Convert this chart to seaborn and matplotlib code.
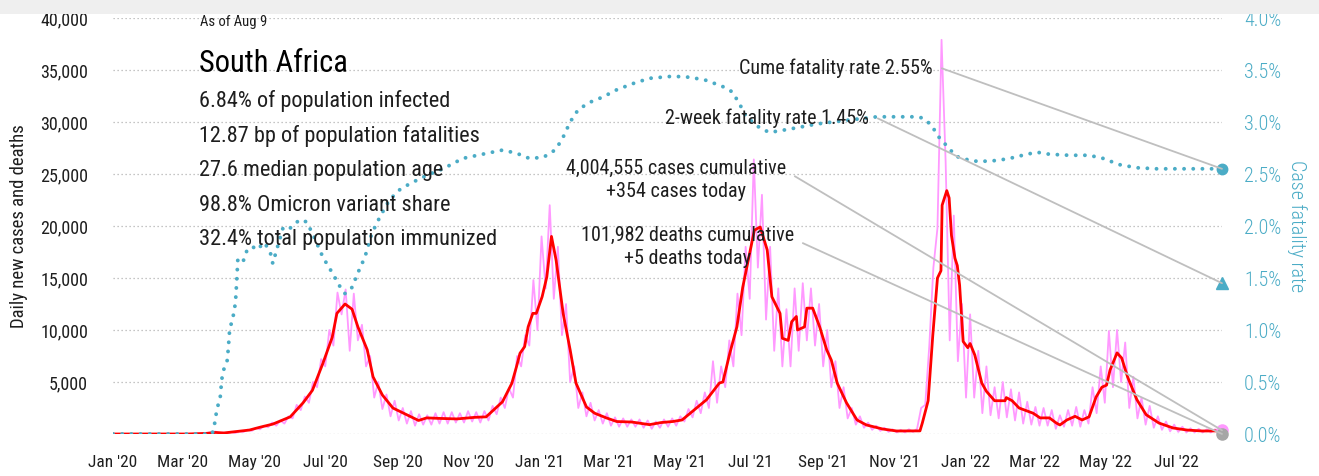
import numpy as np
import pandas as pd
import matplotlib
matplotlib.use("Agg")
import matplotlib.pyplot as plt
import matplotlib.dates as mdates
from matplotlib import font_manager
from matplotlib.patches import Rectangle
from matplotlib.ticker import FuncFormatter
import seaborn as sns

# ---------------------------------------------------------------- data
START = pd.Timestamp("2020-01-01")
AS_OF = pd.Timestamp("2022-08-09")

# daily new cases, two readings per week (every 3.5 days from START)
daily_cases = [
    0, 0, 0, 0, 0, 0, 0, 0, 0, 0, 0, 0, 0, 0, 0, 0, 0, 0, 0, 0,
    5, 20, 30, 100, 150, 240, 80, 130, 60, 180, 100, 250, 200, 420, 300, 600,
    450, 800, 650, 1100, 800, 1300, 1000, 1700, 1500, 2800, 2300, 3600, 3000, 5000,
    4500, 7200, 6500, 10000, 8500, 13600, 11500, 13900, 8000, 13500, 9000, 10500,
    6500, 7500, 3500, 5000, 2400, 3800, 1700, 3200, 1300, 2500, 1000, 2200, 800,
    1900, 900, 1800, 900, 2000, 1000, 2100, 1000, 2100, 1100, 2000, 1100, 2200,
    1200, 2100, 1100, 2200, 1300, 2700, 1900, 3500, 2500, 4400, 3500, 7500, 6500,
    9500, 8500, 14800, 10000, 19000, 14000, 22000, 13000, 18000, 9500, 12500,
    5000, 6500, 2500, 4000, 1700, 3000, 1300, 2300, 1000, 2000, 800, 1600, 700,
    1500, 700, 1400, 700, 1400, 600, 1300, 500, 1200, 600, 1400, 700, 1500, 800,
    1700, 1200, 2400, 1600, 3200, 2000, 4000, 2500, 7000, 3000, 6500, 4500, 9000,
    6500, 13500, 9500, 18000, 13000, 26400, 16000, 23000, 11000, 18000, 8000,
    14000, 6500, 12000, 6500, 14000, 8000, 14500, 9000, 14000, 8500, 12500, 6500,
    10000, 4500, 7000, 2500, 4500, 1500, 2500, 900, 1700, 600, 1100, 400, 800,
    300, 600, 200, 450, 150, 400, 150, 450, 200, 500, 2500, 2800, 8500, 16000,
    19800, 37900, 26200, 9000, 21000, 7000, 12500, 3500, 11500, 3500, 8000, 2000,
    6500, 1800, 4500, 1500, 5000, 1600, 4300, 1300, 4000, 1000, 3100, 900, 2600,
    800, 2500, 800, 2300, 500, 1800, 700, 2300, 800, 2600, 700, 2300, 1000, 4500,
    2000, 6500, 3000, 9900, 4500, 10000, 5000, 8800, 2500, 5500, 1500, 3500, 900,
    2700, 600, 1700, 400, 1200, 250, 900, 200, 700, 150, 550, 150, 500, 150, 450,
    150, 450, 200,
]
latest_cases = 354
latest_deaths = 5

# 7-day average of new cases (days since START, cases)
avg_day = [
    0, 64, 80, 88, 95, 103, 117, 126, 137, 152, 163, 171, 180, 188, 192, 199,
    205, 210, 218, 223, 231, 240, 252, 262, 269, 280, 295, 310, 320, 334, 342,
    346, 349, 353, 356, 360, 363, 368, 372, 376, 380, 386, 392, 397, 406, 413,
    423, 432, 445, 460, 470, 480, 488, 495, 509, 520, 523, 529, 535, 540, 546,
    550, 555, 561, 565, 572, 574, 579, 582, 586, 587, 593, 595, 600, 606, 612,
    616, 621, 629, 638, 646, 660, 672, 692, 694, 699, 703, 707, 710, 711, 715,
    717, 719, 722, 724, 726, 729, 733, 735, 739, 745, 749, 756, 765, 766, 771,
    777, 789, 795, 803, 809, 812, 818, 825, 831, 837, 843, 848, 852, 855, 861,
    865, 870, 878, 886, 897, 909, 921, 934, 951,
]
avg_cases = [
    0, 0, 60, 150, 100, 200, 380, 650, 950, 1650, 3000, 4200, 6800, 9300, 11600,
    12500, 12000, 10300, 8100, 5500, 3750, 2500, 1850, 1300, 1550, 1500, 1450,
    1600, 1650, 3100, 4870, 6470, 7760, 8400, 10300, 11600, 11600, 13200, 15100,
    19000, 16700, 11600, 8100, 4900, 2600, 2000, 1550, 1200, 1150, 900, 1100,
    1200, 1350, 2000, 3300, 4900, 5000, 7800, 10300, 14100, 17400, 19600, 19900,
    17700, 13200, 11600, 9200, 9000, 10800, 11300, 10000, 10300, 12100, 12100,
    10300, 8100, 7100, 4900, 3000, 1350, 870, 480, 290, 300, 1050, 3200, 9500,
    15000, 15700, 22000, 23400, 22700, 19100, 16900, 16200, 14300, 8900, 8300,
    8700, 7600, 4900, 4100, 3200, 3200, 3500, 3200, 2500, 2000, 1550, 1550, 1050,
    870, 1350, 1700, 1350, 1650, 3550, 4500, 4700, 6150, 7800, 7300, 5500, 3300,
    1850, 1050, 580, 380, 290, 300,
]

# cumulative case fatality rate, % (days since START, rate)
cfr_day = [
    0, 85, 87, 89, 92, 93, 94, 98, 99, 100, 103, 105, 106, 107, 111, 115, 120,
    123, 130, 135, 137, 146, 152, 160, 166, 171, 180, 188, 195, 199, 205, 210,
    216, 222, 229, 237, 246, 255, 266, 276, 283, 300, 321, 334, 346, 357, 369,
    379, 385, 392, 399, 409, 420, 432, 446, 460, 480, 495, 509, 523, 531, 537,
    543, 555, 563, 574, 589, 603, 617, 632, 655, 675, 687, 694, 702, 707, 715,
    723, 735, 743, 758, 769, 780, 792, 803, 820, 837, 849, 863, 878, 895, 951,
]
cfr_pct = [
    0.0, 0.0, 0.09, 0.23, 0.36, 0.49, 0.59, 0.71, 0.84, 1.0, 1.13, 1.26, 1.45,
    1.67, 1.64, 1.77, 1.80, 1.77, 1.84, 1.74, 1.64, 1.99, 1.98, 2.06, 2.04,
    1.93, 1.70, 1.55, 1.41, 1.35, 1.41, 1.55, 1.70, 1.93, 2.09, 2.25, 2.35,
    2.41, 2.47, 2.52, 2.55, 2.65, 2.70, 2.73, 2.70, 2.65, 2.66, 2.73, 2.83,
    3.00, 3.12, 3.19, 3.24, 3.31, 3.37, 3.42, 3.44, 3.43, 3.40, 3.34, 3.29,
    3.18, 3.05, 2.94, 2.90, 2.92, 2.95, 2.98, 3.00, 3.02, 3.05, 3.05, 3.05,
    3.04, 2.97, 2.87, 2.77, 2.67, 2.63, 2.62, 2.63, 2.65, 2.68, 2.71, 2.69,
    2.68, 2.68, 2.65, 2.59, 2.56, 2.55, 2.55,
]

cume_cfr = 2.55
two_week_cfr = 1.45
cases_cumulative = "4,004,555"
deaths_cumulative = "101,982"

country = "South Africa"
as_of_label = "As of Aug 9"
facts = [
    "6.84% of population infected",
    "12.87 bp of population fatalities",
    "27.6 median population age",
    "98.8% Omicron variant share",
    "32.4% total population immunized",
]

PINK = "#ff99ff"
RED = "#ff0000"
TEAL = "#4bacc6"
GREY_LINE = "#bfbfbf"
GREY_DOT = "#a6a6a6"
INK = "#1e1e1e"

# ---------------------------------------------------------------- style
sns.set_theme(style="white")
names = {f.name for f in font_manager.fontManager.ttflist}
preferred = ["Roboto Condensed", "Liberation Sans Narrow", "Open Sans Condensed",
             "Noto Sans Condensed", "DejaVu Sans Condensed"]
narrow = [n for n in preferred if n in names]
if not narrow:
    narrow = sorted(n for n in names if "Condensed" in n or "Narrow" in n)[:1]
plt.rcParams["font.family"] = narrow[:1] + ["Liberation Sans", "DejaVu Sans"]
plt.rcParams["axes.unicode_minus"] = False

W, H = 1319, 476
fig = plt.figure(figsize=(W / 100, H / 100), dpi=100, facecolor="white")
fig.patches.append(Rectangle((0, 1 - 14 / H), 1, 14 / H, transform=fig.transFigure,
                             facecolor="#efefef", edgecolor="none", zorder=0))

AX_L, AX_R, AX_T, AX_B = 113, 1222, 18, 434
ax = fig.add_axes([AX_L / W, 1 - AX_B / H, (AX_R - AX_L) / W, (AX_B - AX_T) / H])
ax2 = ax.twinx()


def fx(px):
    return (px - AX_L) / (AX_R - AX_L)


def fy(py):
    return (AX_B - py) / (AX_B - AX_T)


# ---------------------------------------------------------------- series
pink_dates = START + pd.to_timedelta(np.arange(len(daily_cases)) * 3.5, unit="D")
daily = pd.DataFrame({"date": list(pink_dates) + [AS_OF],
                      "cases": daily_cases + [latest_cases]})
avg = pd.DataFrame({"date": START + pd.to_timedelta(avg_day, unit="D"),
                    "cases": avg_cases})
cfr = pd.DataFrame({"date": START + pd.to_timedelta(cfr_day, unit="D"),
                    "rate": cfr_pct})

sns.lineplot(data=daily, x="date", y="cases", ax=ax, color=PINK, lw=1.3,
             estimator=None, zorder=2)
sns.lineplot(data=avg, x="date", y="cases", ax=ax, color=RED, lw=2.0,
             estimator=None, zorder=3)
sns.lineplot(data=cfr, x="date", y="rate", ax=ax2, color=TEAL, lw=2.8,
             linestyle=(0, (0.01, 2.35)), dash_capstyle="round", estimator=None)

end_x = mdates.date2num(AS_OF)
ax2.plot([end_x], [cume_cfr], "o", color=TEAL, ms=7.5, clip_on=False, zorder=6)
ax2.plot([end_x], [two_week_cfr], "^", color=TEAL, ms=8, clip_on=False, zorder=6)
ax.plot([end_x], [latest_cases], "o", color=PINK, ms=8, clip_on=False, zorder=6)
ax.plot([end_x], [latest_deaths], "o", color=GREY_DOT, ms=8, clip_on=False, zorder=7)

# ---------------------------------------------------------------- axes
ax.set_xlim(START, AS_OF)
ax.set_ylim(0, 40000)
ax2.set_ylim(0, 4.0)

ax.set_yticks(np.arange(0, 40001, 5000))
ax.yaxis.set_major_formatter(FuncFormatter(lambda v, p: "" if v == 0 else f"{v:,.0f}"))
ax2.set_yticks(np.arange(0, 4.01, 0.5))
ax2.yaxis.set_major_formatter(FuncFormatter(lambda v, p: f"{v:.1f}%"))

ax.set_xticks(pd.date_range("2020-01-01", "2022-07-01", freq="2MS"))
ax.xaxis.set_major_formatter(mdates.DateFormatter("%b '%y"))

ax.tick_params(axis="y", length=0, pad=18, labelsize=13, labelcolor=INK)
ax2.tick_params(axis="y", length=0, pad=16, labelsize=14.5, labelcolor=TEAL)
for lab in ax2.get_yticklabels():
    lab.set_fontweight("light")
ax.tick_params(axis="x", length=0, pad=15, labelsize=12.5, labelcolor=INK)

ax.set_axisbelow(True)
ax.grid(axis="y", linestyle=(0, (1, 2.2)), color="#b3b3b3", lw=0.9)
ax.grid(axis="x", visible=False)
ax2.grid(False)
for a in (ax, ax2):
    for s in a.spines.values():
        s.set_visible(False)

ax.set_xlabel("")
ax.set_ylabel("Daily new cases and deaths", fontsize=13.5, color=INK, va="center")
ax.yaxis.set_label_coords(fx(19), 0.5)
ax2.set_ylabel("Case fatality rate", fontsize=14.5, color=TEAL, rotation=270,
               va="center", fontweight="light")
ax2.yaxis.set_label_coords(fx(1297), 0.5)

# ---------------------------------------------------------------- text block
ax2.text(fx(200), fy(22), as_of_label, transform=ax2.transAxes, fontsize=10.5,
         color=INK, ha="left", va="center")
ax2.text(fx(199), fy(63), country, transform=ax2.transAxes, fontsize=22,
         color="#000000", ha="left", va="center")
for i, line in enumerate(facts):
    ax2.text(fx(199), fy(101 + 34.7 * i), line, transform=ax2.transAxes,
             fontsize=16, color=INK, ha="left", va="center")

# ---------------------------------------------------------------- callouts
def callout(axis, label, y_value, px, py, relpos=(1, 0.5), arm=8):
    axis.annotate(
        label, xy=(end_x, y_value), xycoords="data",
        xytext=(fx(px), fy(py)), textcoords="axes fraction",
        ha="right", va="center", multialignment="center", linespacing=1.3,
        fontsize=14.5, color=INK, zorder=8,
        arrowprops=dict(arrowstyle="-", color=GREY_LINE, lw=1.3, shrinkA=4,
                        shrinkB=0, relpos=relpos,
                        connectionstyle=f"arc,angleA=0,angleB=0,armA={arm},armB=0,rad=0"),
    )


callout(ax2, f"Cume fatality rate {cume_cfr:.2f}%", cume_cfr, 933, 68)
callout(ax2, f"2-week fatality rate {two_week_cfr:.2f}%", two_week_cfr, 869, 118)
callout(ax, f"{cases_cumulative} cases cumulative\n+{latest_cases:,} cases today",
        latest_cases, 786, 180, relpos=(1, 0.6))
callout(ax, f"{deaths_cumulative} deaths cumulative\n+{latest_deaths:,} deaths today",
        latest_deaths, 794, 247, relpos=(1, 0.6))

fig.savefig("out.png", dpi=100, facecolor="white")
